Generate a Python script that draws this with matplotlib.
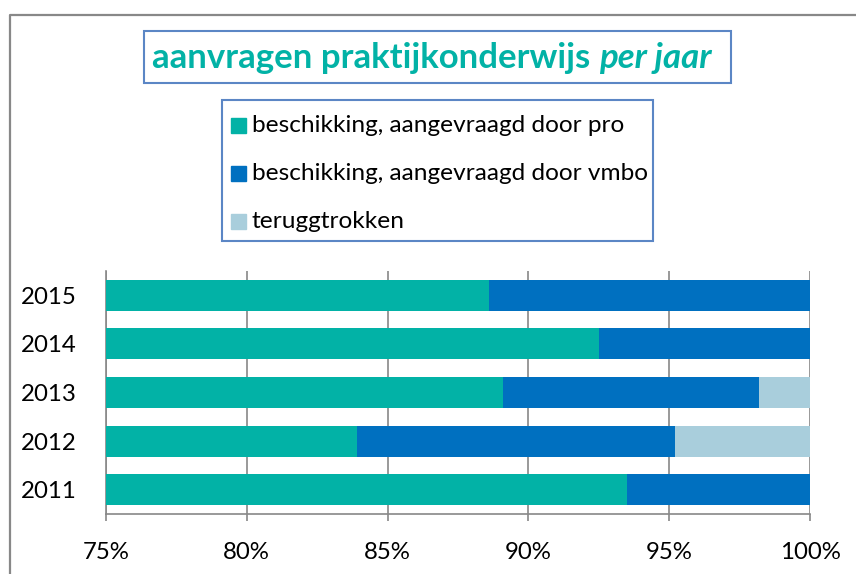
import numpy as np
import matplotlib
matplotlib.use("Agg")
import matplotlib.pyplot as plt
from matplotlib.lines import Line2D
from matplotlib.patches import Rectangle

plt.rcParams['font.family'] = ['Lato', 'DejaVu Sans']

# data (percentages per year)
years = ['2011', '2012', '2013', '2014', '2015']
pro = [93.5, 83.9, 89.1, 92.5, 88.6]
vmbo = [6.5, 11.3, 9.1, 7.5, 11.4]
terug = [0.0, 4.8, 1.8, 0.0, 0.0]
series_names = ['beschikking, aangevraagd door pro',
                'beschikking, aangevraagd door vmbo',
                'teruggtrokken']
colors = ['#02B2A6', '#0070C0', '#A9CEDC']
xticks = [75, 80, 85, 90, 95, 100]

W, H = 856, 574
fig = plt.figure(figsize=(W / 100, H / 100), dpi=100)

def fx(px):
    return px / W

def fy(py):
    return 1 - py / H

# outer chart frame (right and bottom edges are cut off)
fig.add_artist(Line2D([fx(10), fx(10), 1.0], [0.0, fy(15), fy(15)],
                      transform=fig.transFigure, color='#888888', lw=1.6))

ax = fig.add_axes([fx(106), fy(514), fx(810) - fx(106), fy(271) - fy(514)])

y = np.arange(len(years))
pro = np.array(pro)
vmbo = np.array(vmbo)
terug = np.array(terug)
h = 0.64
ax.barh(y, pro, height=h, color=colors[0], zorder=3)
ax.barh(y, vmbo, left=pro, height=h, color=colors[1], zorder=3)
ax.barh(y, terug, left=pro + vmbo, height=h, color=colors[2], zorder=3)

ax.set_xlim(75, 100)
ax.set_ylim(-0.5, len(years) - 0.5)
ax.set_yticks(y)
ax.set_yticklabels(years)
ax.set_xticks(xticks)
ax.set_xticklabels([f"{t}%" for t in xticks])
ax.tick_params(axis='y', length=0, pad=21, labelsize=17.3)
ax.tick_params(axis='x', length=5, width=1.2, color='#888888', pad=15, labelsize=17.3)
ax.grid(axis='x', color='#888888', lw=1.2, zorder=0)
for s in ['top', 'right']:
    ax.spines[s].set_visible(False)
for s in ['left', 'bottom']:
    ax.spines[s].set_color('#888888')
    ax.spines[s].set_linewidth(1.2)

# title box
fig.add_artist(Rectangle((fx(144), fy(83)), fx(731) - fx(144), fy(31) - fy(83),
                         transform=fig.transFigure, fill=False,
                         edgecolor='#5B86C5', lw=1.5))
t1 = fig.text(fx(152), fy(58), 'aanvragen praktijkonderwijs ', color='#02B2A6',
              fontsize=25, fontweight='bold', va='center', ha='left')
fig.canvas.draw()
bb = t1.get_window_extent()
fig.text(bb.x1 / W, fy(58), 'per jaar', color='#02B2A6', fontsize=25,
         fontweight='bold', fontstyle='italic', va='center', ha='left')

# legend box
fig.add_artist(Rectangle((fx(222), fy(241)), fx(653) - fx(222), fy(100) - fy(241),
                         transform=fig.transFigure, fill=False,
                         edgecolor='#5B86C5', lw=1.5))
for i, (name, c) in enumerate(zip(series_names, colors)):
    yc = 125 + i * 48
    fig.add_artist(Rectangle((fx(231), fy(yc + 7.5)), fx(15), 15 / H,
                             transform=fig.transFigure, color=c))
    fig.text(fx(252), fy(yc), name, fontsize=17.6, va='center', ha='left')

fig.savefig('out.png', dpi=100)
